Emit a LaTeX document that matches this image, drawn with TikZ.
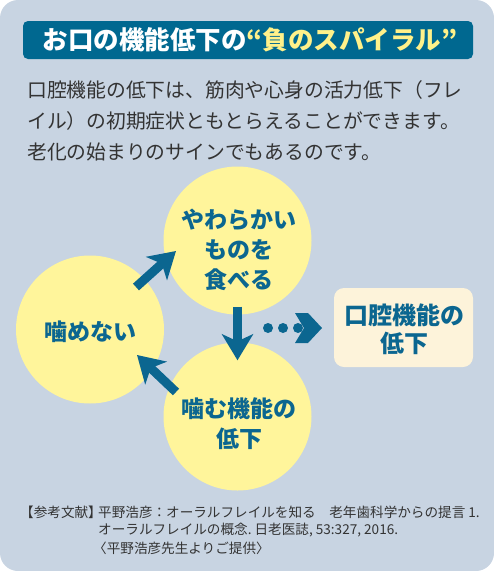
\documentclass[tikz,border=0pt]{standalone}
\usepackage{fontspec}
\setmainfont{Noto Sans CJK JP}
\usetikzlibrary{arrows.meta, calc}
\definecolor{spBg}{HTML}{C8D4E2}
\definecolor{spBar}{HTML}{006890}
\definecolor{spHi}{HTML}{FFF18A}
\definecolor{spBub}{HTML}{FFF59B}
\definecolor{spInk}{HTML}{0B6690}
\definecolor{spBox}{HTML}{FDF3DA}
\definecolor{spBody}{HTML}{333333}
\begin{document}
\begin{tikzpicture}[x=1pt, y=-1pt, bubble/.style={circle, fill=spBub, minimum size=148pt, inner sep=0pt}, bubtxt/.style={align=center, text=spInk, font=\fontsize{23}{30}\selectfont\bfseries}, bodytxt/.style={anchor=west, inner sep=0pt, text=spBody, font=\fontsize{19.8}{24}\selectfont}, reftxt/.style={anchor=west, inner sep=0pt, text=spBody, font=\fontsize{13.6}{18}\selectfont}, arr/.style={-{Stealth[length=26pt, width=31pt, inset=7pt]}, line width=9pt, color=spInk}, dot/.style={circle, fill=spInk, minimum size=10pt, inner sep=0pt}]
\useasboundingbox (0,0) rectangle (494,571);
\fill[spBg, rounded corners=18pt] (0,0) rectangle (494,571);
% title bar
\node[fill=spBar, rounded corners=5pt, minimum width=450pt, minimum height=38pt, inner sep=0pt] (bar) at (248,40) {};
\node[text=white, font=\fontsize{25.5}{28}\selectfont\bfseries] (ttl) at (250,40) {お口の機能低下の{\color{spHi}“負のスパイラル”}};
% intro text
\node[bodytxt] (intro1) at (27,90) {口腔機能の低下は、筋肉や心身の活力低下（フレ};
\node[bodytxt] (intro2) at (27,121) {イル）の初期症状ともとらえることができます。};
\node[bodytxt] (intro3) at (27,152) {老化の始まりのサインでもあるのです。};
% the spiral
\node[bubble] (eat) at (237.5,240.5) {};
\node[bubble] (chew) at (90,329.5) {};
\node[bubble] (bite) at (237.5,416.5) {};
\node[bubtxt] (eattxt) at (239,250) {やわらかい\\ものを\\食べる};
\node[bubtxt] (chewtxt) at (91,332) {噛めない};
\node[bubtxt] (bitetxt) at (239,424) {噛む機能の\\低下};
\node[fill=spBox, rounded corners=10pt, minimum width=139pt, minimum height=79pt, inner sep=0pt] (oral) at (403.5,327.5) {};
\node[bubtxt, font=\fontsize{24}{28}\selectfont\bfseries] (oraltxt) at (404.5,329) {口腔機能の\\低下};
\coordinate (up1) at (136,287); \coordinate (up2) at (176,251);
\coordinate (bk1) at (176,392); \coordinate (bk2) at (137,355);
\draw[arr] (up1)--(up2);
\draw[arr] ([yshift=8pt]eat.south)--([yshift=-18pt]bite.north);
\draw[arr] (bk1)--(bk2);
\node[dot] (d1) at (268,328) {}; \node[dot] (d2) at (283,328) {}; \node[dot] (d3) at (298,328) {};
\fill[spInk] (295,313)--(308,313)--(322,328)--(308,343)--(295,343)--(304,328)--cycle;
% reference
\node[reftxt] (refhd) at (20,512) {【参考文献】};
\node[reftxt] (ref1) at (98,512) {平野浩彦：オーラルフレイルを知る　老年歯科学からの提言 1.};
\node[reftxt] (ref2) at (98,530) {オーラルフレイルの概念.\ 日老医誌, 53:327, 2016.};
\node[reftxt] (ref3) at (93,548) {〈平野浩彦先生よりご提供〉};
\end{tikzpicture}
\end{document}
